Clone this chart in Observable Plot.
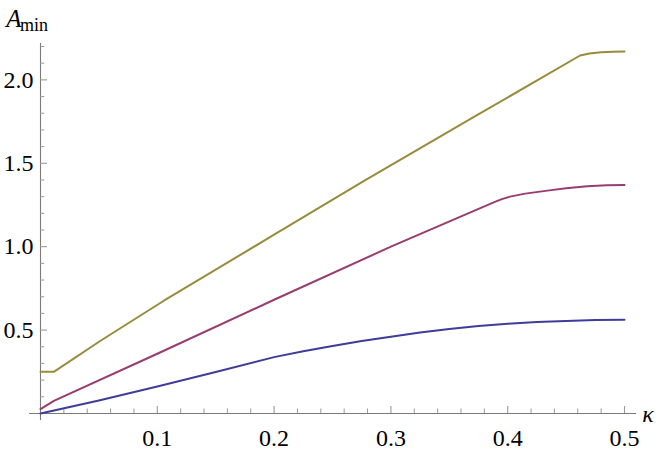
<!DOCTYPE html>
<html>
<head>
<meta charset="utf-8">
<script src="https://cdn.jsdelivr.net/npm/d3@7"></script>
<script src="https://cdn.jsdelivr.net/npm/@observablehq/plot@0.6"></script>
<style>
  html, body { margin: 0; padding: 0; background: #fff; }
  #chart svg { display: block; }
</style>
</head>
<body>
<div id="chart"></div>
<script>
// ---- data ----
const kappaBlue = [0, 0.05, 0.1, 0.15, 0.2, 0.225, 0.25, 0.275, 0.3, 0.325, 0.35, 0.375, 0.4, 0.425, 0.45, 0.475, 0.5];
const aminBlue  = [0, 0.078, 0.162, 0.249, 0.338, 0.373, 0.405, 0.435, 0.460, 0.486, 0.507, 0.525, 0.538, 0.548, 0.555, 0.560, 0.562];

const kappaMagenta = [0, 0.0114, 0.1, 0.2, 0.3, 0.388, 0.395, 0.402, 0.415, 0.434, 0.45, 0.468, 0.485, 0.5];
const aminMagenta  = [0.026, 0.076, 0.358, 0.682, 1.0, 1.266, 1.285, 1.300, 1.318, 1.336, 1.350, 1.362, 1.368, 1.370];

const kappaOlive = [0, 0.0114, 0.0514, 0.1056, 0.2, 0.277, 0.37, 0.462, 0.47, 0.48, 0.49, 0.5];
const aminOlive  = [0.25, 0.25, 0.436, 0.676, 1.072, 1.395, 1.773, 2.146, 2.158, 2.165, 2.168, 2.17];

const xMajor = [0.1, 0.2, 0.3, 0.4, 0.5];
const xMinor = [0.02, 0.04, 0.06, 0.08, 0.12, 0.14, 0.16, 0.18, 0.22, 0.24, 0.26, 0.28,
                0.32, 0.34, 0.36, 0.38, 0.42, 0.44, 0.46, 0.48];
const yMajor = [0.5, 1.0, 1.5, 2.0];
const yMinor = [0.1, 0.2, 0.3, 0.4, 0.6, 0.7, 0.8, 0.9, 1.1, 1.2, 1.3, 1.4,
                1.6, 1.7, 1.8, 1.9, 2.1, 2.2];

const colors = { blue: "#3f3d99", magenta: "#993d71", olive: "#998b3d" };

// ---- layout ----
const W = 664, H = 454;
const mL = 40, mR = 40, mT = 46, mB = 41;
const frameW = W - mL - mR, frameH = H - mT - mB;
const axisColor = "#7a7a7a", tickColor = "#9a9a9a";
const fam = "Liberation Serif";

const toRows = (ks, vs) => ks.map((k, i) => ({k, v: vs[i]}));

const chart = Plot.plot({
  width: W,
  height: H,
  marginLeft: mL, marginRight: mR, marginTop: mT, marginBottom: mB,
  style: { fontFamily: fam, fontSize: "24px" },
  x: { domain: [0, 0.5], axis: null },
  y: { domain: [0, 2.2], axis: null },
  marks: [
    // axis lines
    Plot.ruleX([0], { stroke: axisColor, strokeWidth: 1.1, insetTop: -3, insetBottom: -7 }),
    Plot.ruleY([0], { stroke: axisColor, strokeWidth: 1.1, insetLeft: -11, insetRight: -12 }),
    // ticks (inward)
    Plot.ruleX(xMajor, { stroke: tickColor, strokeWidth: 1.1, insetTop: frameH - 7 }),
    Plot.ruleX(xMinor, { stroke: tickColor, strokeWidth: 1, insetTop: frameH - 4.5 }),
    Plot.ruleY(yMajor, { stroke: tickColor, strokeWidth: 1.1, insetRight: frameW - 7 }),
    Plot.ruleY(yMinor, { stroke: tickColor, strokeWidth: 1, insetRight: frameW - 4.3 }),
    // tick labels
    Plot.axisX(xMajor, { tickSize: 0, tickPadding: 15, tickFormat: d3.format(".1f"), label: null, fontFamily: fam, fontSize: 24 }),
    Plot.axisY(yMajor, { tickSize: 0, tickPadding: 7, tickFormat: d3.format(".1f"), label: null, fontFamily: fam, fontSize: 24 }),
    // curves
    Plot.line(toRows(kappaBlue, aminBlue), { x: "k", y: "v", stroke: colors.blue, strokeWidth: 2 }),
    Plot.line(toRows(kappaMagenta, aminMagenta), { x: "k", y: "v", stroke: colors.magenta, strokeWidth: 2 }),
    Plot.line(toRows(kappaOlive, aminOlive), { x: "k", y: "v", stroke: colors.olive, strokeWidth: 2 })
  ]
});

// axis titles as real SVG text (A with subscript "min", and kappa)
const svg = d3.select(chart);
const yt = svg.append("text").attr("font-family", fam).attr("fill", "#000");
yt.append("tspan").attr("x", 14).attr("y", 27).attr("font-size", 25).attr("font-style", "italic").text("A");
yt.append("tspan").attr("x", 34).attr("y", 31).attr("font-size", 18).text("min");
svg.append("text").attr("font-family", fam).attr("fill", "#000")
  .attr("x", 648).attr("y", 422).attr("font-size", 24).attr("font-style", "italic").text("κ");

document.getElementById("chart").appendChild(chart);
</script>
</body>
</html>
